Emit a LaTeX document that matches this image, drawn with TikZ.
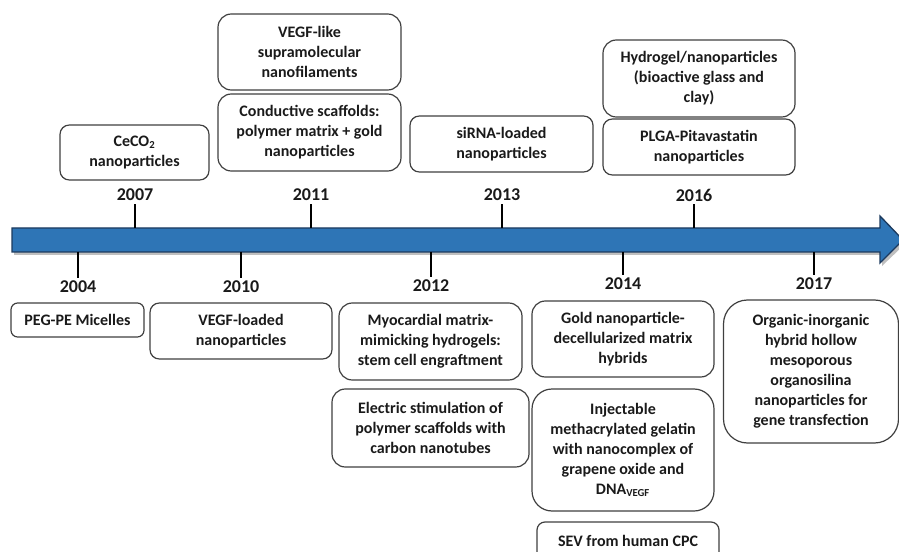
\documentclass[tikz,border=0pt]{standalone}
\usepackage{fontspec}
\setmainfont{Carlito}
\usepackage{tikz}
\usetikzlibrary{calc}
\definecolor{barblue}{HTML}{2E75B6}
\definecolor{barline}{HTML}{1C3A5E}
\definecolor{boxline}{HTML}{3F3F3F}
\definecolor{ink}{HTML}{1A1A1A}
\tikzset{
  event/.style={draw=boxline, line width=0.9pt, rounded corners=7pt, align=center,
    text=ink, font=\bfseries\fontsize{12}{15}\selectfont, inner sep=0pt},
  boxsize/.style 2 args={minimum width=#1*0.75pt, minimum height=#2*0.75pt},
  year/.style={text=ink, font=\bfseries\fontsize{13.5}{16}\selectfont, inner sep=2.2pt},
  tick/.style={draw=black, line width=1pt},
  bar/.style={fill=barblue, draw=barline, line width=1pt, line join=miter},
  barshadow/.style={fill=black, opacity=0.25},
}

\begin{document}
\begin{tikzpicture}[x=0.75pt, y=-0.75pt]
  \useasboundingbox (0,0) rectangle (899,552);
  \clip (0,0) rectangle (899,552);

  % timeline arrow
  \fill[barshadow] (14,231) -- (882,231) -- (882,219) -- (906,243) -- (882,266) -- (882,255) -- (14,255) -- cycle;
  \draw[bar] (12,228) -- (880,228) -- (880,216) -- (903,240) -- (880,263) -- (880,252) -- (12,252) -- cycle;

  % tick points on the bar
  \coordinate (t2004) at (78,252);
  \coordinate (t2007) at (135,228);
  \coordinate (t2010) at (241,252);
  \coordinate (t2011) at (311,228);
  \coordinate (t2012) at (431,252);
  \coordinate (t2013) at (502,228);
  \coordinate (t2014) at (623,252);
  \coordinate (t2016) at (694,228);
  \coordinate (t2017) at (814,252);

  % years above
  \node[year] (y2007) at (135,195) {2007};
  \node[year] (y2011) at (311,195) {2011};
  \node[year] (y2013) at (502,195) {2013};
  \node[year] (y2016) at (694,195) {2016};
  % years below
  \node[year] (y2004) at (78,287) {2004};
  \node[year] (y2010) at (241,287) {2010};
  \node[year] (y2012) at (431,286) {2012};
  \node[year] (y2014) at (623,284) {2014};
  \node[year] (y2017) at (814,284) {2017};

  \draw[tick] (y2007.south) -- (t2007);
  \draw[tick] (y2011.south) -- (t2011);
  \draw[tick] (y2013.south) -- (t2013);
  \draw[tick] (y2016.south) -- (t2016);
  \draw[tick] (t2004) -- (y2004.north);
  \draw[tick] (t2010) -- (y2010.north);
  \draw[tick] (t2012) -- (y2012.north);
  \draw[tick] (t2014) -- (y2014.north);
  \draw[tick] (t2017) -- (y2017.north);

  % events above the line
  \node[event, boxsize={149}{55}] (ceco) at (134.5,152.5) {CeCO\textsubscript{2}\\nanoparticles};
  \node[event, boxsize={183}{76}, rounded corners=10pt] (vegflike) at (309.5,52) {VEGF-like\\supramolecular\\nanofilaments};
  \node[event, boxsize={183}{77}, rounded corners=10pt] (conduct) at (309.5,132.5) {Conductive scaffolds:\\polymer matrix + gold\\nanoparticles};
  \node[event, boxsize={183}{56}] (sirna) at (501.5,144) {siRNA-loaded\\nanoparticles};
  \node[event, boxsize={192}{77}, rounded corners=10pt] (hydrogel) at (699,78.5) {Hydrogel/nanoparticles\\(bioactive glass and\\clay)};
  \node[event, boxsize={192}{56}] (plga) at (699,147) {PLGA-Pitavastatin\\nanoparticles};

  % events below the line
  \node[event, boxsize={133}{34}, rounded corners=5pt] (pegpe) at (77.5,320) {PEG-PE Micelles};
  \node[event, boxsize={182}{56}] (vegfload) at (241,331) {VEGF-loaded\\nanoparticles};
  \node[event, boxsize={183}{77}, rounded corners=10pt] (myocard) at (430.5,341.5) {Myocardial matrix-\\mimicking hydrogels:\\stem cell engraftment};
  \node[event, boxsize={197}{78}, rounded corners=10pt] (electric) at (430.5,428) {Electric stimulation of\\polymer scaffolds with\\carbon nanotubes};
  \node[event, boxsize={182}{76}, rounded corners=10pt] (goldnp) at (623,339) {Gold nanoparticle-\\decellularized matrix\\hybrids};
  \node[event, boxsize={182}{122}, rounded corners=15pt] (gelatin) at (623,450) {Injectable\\methacrylated gelatin\\with nanocomplex of\\grapene oxide and\\DNA\textsubscript{VEGF}};
  \node[event, boxsize={182}{38}, rounded corners=6pt] (sev) at (628,541) {SEV from human CPC};
  \node[event, boxsize={175}{143}, rounded corners=18pt] (organic) at (811,371.5) {Organic-inorganic\\hybrid hollow\\mesoporous\\organosilina\\nanoparticles for\\gene transfection};
\end{tikzpicture}
\end{document}
